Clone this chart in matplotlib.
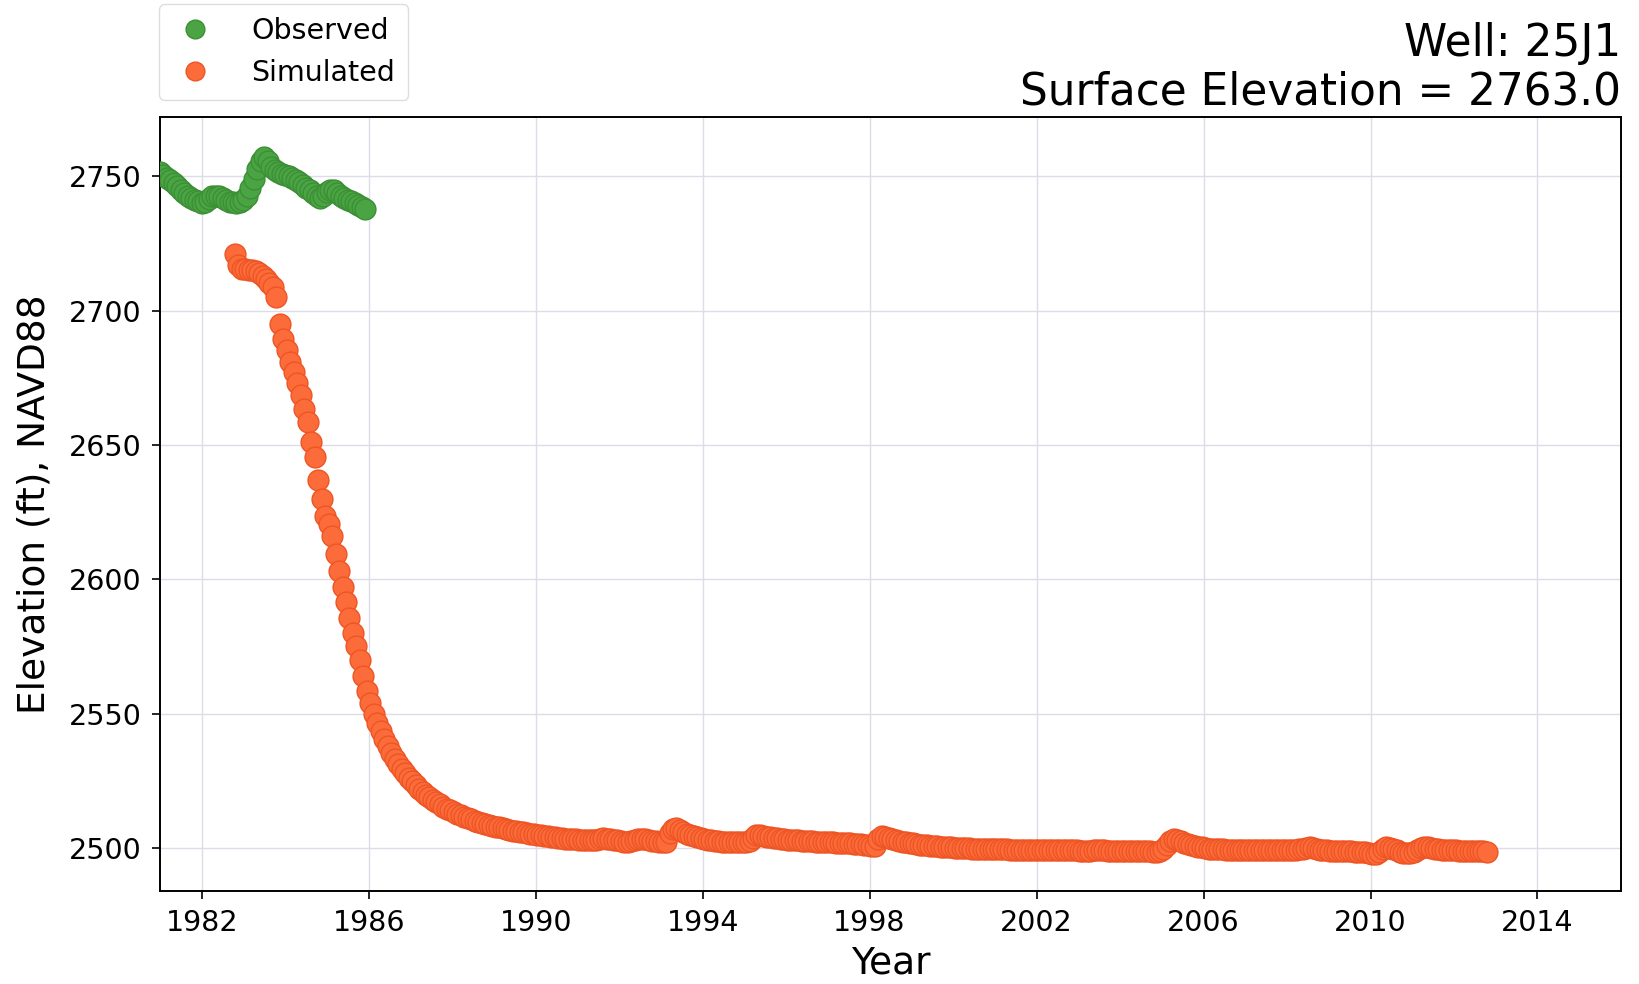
import matplotlib
matplotlib.use("Agg")
import matplotlib.pyplot as plt
import numpy as np

# ---------------- data ----------------
# Observed heads, monthly from 1981.0
obs_start = 1981.0
obs_values = [
    2751.5, 2750.5, 2749.5, 2748.5, 2747.5, 2746.2, 2745.0, 2743.8, 2742.8, 2742.0, 2741.2, 2740.6,
    2740.2, 2740.5, 2741.5, 2742.6, 2742.8, 2742.8, 2741.8, 2741.0, 2740.5, 2740.3, 2740.2, 2740.3,
    2741.0, 2742.5, 2745.5, 2749.0, 2752.5, 2755.5, 2757.0, 2755.5, 2753.5, 2752.3, 2751.6, 2751.0,
    2750.5, 2750.0, 2749.4, 2748.7, 2747.8, 2746.8, 2745.8, 2744.8, 2743.6, 2742.6, 2741.9, 2742.6,
    2744.0, 2745.0, 2744.8, 2743.8, 2742.8, 2742.0, 2741.3, 2740.6, 2739.9, 2739.2, 2738.5, 2737.8,
]

# Simulated heads, monthly from Oct 1982 to Oct 2012
sim_start = 1982.79
sim_values = [
    2721.0, 2717.0, 2715.5,                                                                         # 1982
    2715.3, 2715.2, 2715.0, 2714.6, 2714.0, 2713.0, 2711.8, 2710.4, 2708.8, 2705.0, 2695.0, 2689.5,  # 1983
    2685.5, 2681.0, 2677.0, 2673.0, 2668.5, 2663.5, 2658.5, 2651.0, 2645.5, 2637.0, 2630.0, 2623.5,  # 1984
    2620.5, 2616.0, 2609.5, 2603.0, 2597.0, 2591.5, 2585.5, 2580.0, 2575.0, 2570.0, 2564.0, 2558.5,  # 1985
    2554.0, 2550.0, 2546.5, 2543.5, 2540.5, 2538.0, 2535.5, 2533.3, 2531.3, 2529.5, 2527.8, 2526.2,  # 1986
    2524.8, 2523.4, 2522.1, 2520.9, 2519.8, 2518.8, 2517.9, 2517.0, 2516.2, 2515.4, 2514.7, 2514.0,  # 1987
    2513.4, 2512.8, 2512.2, 2511.7, 2511.2, 2510.7, 2510.2, 2509.8, 2509.4, 2509.0, 2508.6, 2508.3,  # 1988
    2508.0, 2507.7, 2507.4, 2507.1, 2506.8, 2506.5, 2506.2, 2506.0, 2505.8, 2505.5, 2505.3, 2505.1,  # 1989
    2504.9, 2504.7, 2504.5, 2504.3, 2504.1, 2504.0, 2503.8, 2503.6, 2503.5, 2503.4, 2503.3, 2503.2,  # 1990
    2503.1, 2503.0, 2502.9, 2502.9, 2502.8, 2502.8, 2503.4, 2503.6, 2503.4, 2503.2, 2503.0, 2502.8,  # 1991
    2502.6, 2502.4, 2502.3, 2502.5, 2502.9, 2503.3, 2503.5, 2503.2, 2502.9, 2502.7, 2502.5, 2502.4,  # 1992
    2502.3, 2502.2, 2505.5, 2507.0, 2507.3, 2506.6, 2506.0, 2505.4, 2504.9, 2504.4, 2504.0, 2503.6,  # 1993
    2503.3, 2503.0, 2502.8, 2502.6, 2502.5, 2502.4, 2502.3, 2502.3, 2502.2, 2502.2, 2502.2, 2502.2,  # 1994
    2502.3, 2502.6, 2503.8, 2504.8, 2504.7, 2504.4, 2504.2, 2504.0, 2503.8, 2503.6, 2503.4, 2503.3,  # 1995
    2503.1, 2503.0, 2502.9, 2502.8, 2502.7, 2502.6, 2502.6, 2502.5, 2502.4, 2502.3, 2502.3, 2502.2,  # 1996
    2502.1, 2502.1, 2502.0, 2501.9, 2501.9, 2501.8, 2501.7, 2501.6, 2501.5, 2501.4, 2501.2, 2501.0,  # 1997
    2500.8, 2500.7, 2503.5, 2504.3, 2504.2, 2503.8, 2503.4, 2503.0, 2502.7, 2502.4, 2502.1, 2501.9,  # 1998
    2501.7, 2501.5, 2501.3, 2501.1, 2501.0, 2500.9, 2500.7, 2500.6, 2500.5, 2500.4, 2500.3, 2500.2,  # 1999
    2500.1, 2500.0, 2500.0, 2499.9, 2499.9, 2499.8, 2499.8, 2499.7, 2499.7, 2499.7, 2499.6, 2499.6,  # 2000
    2499.6, 2499.5, 2499.5, 2499.5, 2499.4, 2499.4, 2499.4, 2499.4, 2499.3, 2499.3, 2499.3, 2499.3,  # 2001
    2499.3, 2499.2, 2499.2, 2499.2, 2499.2, 2499.2, 2499.1, 2499.1, 2499.1, 2499.1, 2499.1, 2499.1,  # 2002
    2499.0, 2499.0, 2499.0, 2499.0, 2499.1, 2499.2, 2499.2, 2499.1, 2499.0, 2499.0, 2498.9, 2498.9,  # 2003
    2498.9, 2498.9, 2498.9, 2498.8, 2498.8, 2498.8, 2498.8, 2498.8, 2498.8, 2498.7, 2498.7, 2498.8,  # 2004
    2499.5, 2501.2, 2502.6, 2503.4, 2503.0, 2502.5, 2502.0, 2501.6, 2501.2, 2500.8, 2500.5, 2500.2,  # 2005
    2500.0, 2499.8, 2499.7, 2499.6, 2499.5, 2499.5, 2499.4, 2499.4, 2499.3, 2499.3, 2499.3, 2499.3,  # 2006
    2499.2, 2499.2, 2499.2, 2499.2, 2499.1, 2499.1, 2499.1, 2499.1, 2499.1, 2499.1, 2499.1, 2499.1,  # 2007
    2499.1, 2499.2, 2499.3, 2499.5, 2499.8, 2500.1, 2500.3, 2500.1, 2499.7, 2499.4, 2499.2, 2499.1,  # 2008
    2499.0, 2499.0, 2498.9, 2498.9, 2498.9, 2498.8, 2498.8, 2498.7, 2498.7, 2498.6, 2498.5, 2498.3,  # 2009
    2497.8, 2497.6, 2498.5, 2499.6, 2500.2, 2500.0, 2499.6, 2499.2, 2498.7, 2498.3, 2498.0, 2498.2,  # 2010
    2498.6, 2499.2, 2500.0, 2500.5, 2500.4, 2500.1, 2499.8, 2499.6, 2499.4, 2499.3, 2499.2, 2499.2,  # 2011
    2499.1, 2499.0, 2499.0, 2498.9, 2498.9, 2498.9, 2498.8, 2498.8, 2498.8, 2498.7,                  # 2012
]

x_ticks = [1982, 1986, 1990, 1994, 1998, 2002, 2006, 2010, 2014]
y_ticks = [2500, 2550, 2600, 2650, 2700, 2750]
well_name = "25J1"
surface_elev = 2763.0

# ---------------- derived x positions (monthly time index) ----------------
obs_x = obs_start + np.arange(len(obs_values)) / 12.0
sim_x = sim_start + np.arange(len(sim_values)) / 12.0

# ---------------- figure ----------------
plt.rcParams['font.family'] = ['DejaVu Sans']
fig = plt.figure(figsize=(16.39, 9.84), dpi=100)
ax = fig.add_axes([0.0976, 0.0945, 0.8914, 0.7865])

green = '#4ba443'
green_edge = '#3b8f35'
orange = '#fc6c3a'
orange_edge = '#ee5424'

ax.plot(obs_x, obs_values, linestyle='none', marker='o', markersize=15,
        color=green, markeredgecolor=green_edge, markeredgewidth=1.0,
        label='Observed', zorder=3)
ax.plot(sim_x, sim_values, linestyle='none', marker='o', markersize=15,
        color=orange, markeredgecolor=orange_edge, markeredgewidth=1.0,
        label='Simulated', zorder=3)

ax.set_xlim(1981.0, 2016.0)
ax.set_ylim(2484, 2772)
ax.set_xticks(x_ticks)
ax.set_yticks(y_ticks)
ax.grid(True, color='#dcdde6', linewidth=1.0)
ax.set_axisbelow(True)

for s in ax.spines.values():
    s.set_color('black')
    s.set_linewidth(1.4)

ax.tick_params(axis='both', direction='out', length=6, width=1.2,
               labelsize=20.5, colors='black', pad=7)

ax.set_xlabel('Year', fontsize=27, labelpad=6)
ax.set_ylabel('Elevation (ft), NAVD88', fontsize=27, labelpad=12)

ax.set_title(f'Well: {well_name}\nSurface Elevation = {surface_elev:.1f}',
             loc='right', fontsize=31.5, pad=9, linespacing=1.15)

leg = fig.legend(loc='upper left', bbox_to_anchor=(159 / 1639, 1 - 4 / 984),
                 fontsize=20.5, frameon=True, fancybox=True, framealpha=1.0,
                 edgecolor='#dddddd', borderpad=0.45, handletextpad=1.2,
                 handlelength=1.6, borderaxespad=0.0, markerscale=0.9)

fig.savefig('out.png', dpi=100)
